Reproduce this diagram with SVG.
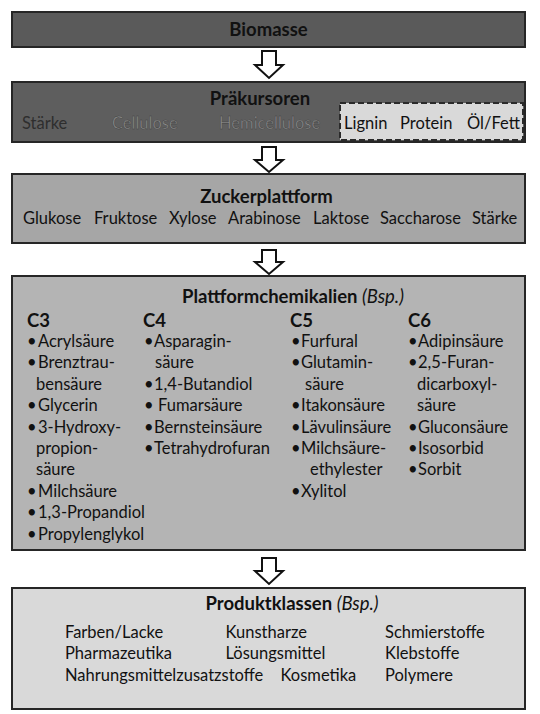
<svg xmlns="http://www.w3.org/2000/svg" width="540" height="714" viewBox="0 0 540 714">
<style>
  .box { stroke: #262626; stroke-width: 2; }
  .title { font-family: Lato, "Open Sans", sans-serif; font-weight: bold; font-size: 18.5px; fill: #111; }
  .it { font-family: Lato, "Open Sans", sans-serif; font-size: 16.5px; fill: #111; }
  .ital { font-style: italic; font-weight: normal; }
  .dark { fill: #2e2e2e; }
  .emb { fill: #8c8c8c; stroke: #3a3a3a; stroke-width: 0.4; }
  .arrow { fill: #fff; stroke: #111; stroke-width: 2; stroke-linejoin: miter; }
</style>
<rect width="540" height="714" fill="#fff"/>
<g id="connectors">
  <path class="arrow" d="M262,51 H276 V65 H283 L269,78 L255,65 H262 Z"/>
  <path class="arrow" d="M262,147 H276 V160 H283 L269,172 L255,160 H262 Z"/>
  <path class="arrow" d="M262,250 H276 V262 H283 L269,274 L255,262 H262 Z"/>
  <path class="arrow" d="M262,558 H276 V571 H283 L269,584 L255,571 H262 Z"/>
</g>
<g id="biomasse">
  <rect class="box" x="12" y="12" width="513" height="35" fill="#5a5a5a"/>
  <text class="title" x="268.5" y="36" text-anchor="middle">Biomasse</text>
</g>
<g id="praekursoren">
  <rect class="box" x="12" y="82" width="513" height="60" fill="#5e5e5e"/>
  <text class="title" x="260" y="105" text-anchor="middle">Präkursoren</text>
  <text class="it dark" x="22" y="129">Stärke</text>
  <text class="it emb" x="112" y="129">Cellulose</text>
  <text class="it emb" x="219" y="129">Hemicellulose</text>
  <rect x="340" y="103" width="183" height="37" fill="#d9d9d9" stroke="#2a2a2a" stroke-width="2" stroke-dasharray="6,3"/>
  <text class="it" x="344" y="129">Lignin</text>
  <text class="it" x="400" y="129">Protein</text>
  <text class="it" x="467" y="129">Öl/Fett</text>
</g>
<g id="zuckerplattform">
  <rect class="box" x="12" y="174" width="513" height="69" fill="#a6a6a6"/>
  <text class="title" x="266.5" y="203" text-anchor="middle">Zuckerplattform</text>
  <text class="it" x="23" y="224">Glukose</text>
  <text class="it" x="94" y="224">Fruktose</text>
  <text class="it" x="169" y="224">Xylose</text>
  <text class="it" x="228" y="224">Arabinose</text>
  <text class="it" x="313" y="224">Laktose</text>
  <text class="it" x="380" y="224">Saccharose</text>
  <text class="it" x="472" y="224">Stärke</text>
</g>
<g id="plattformchemikalien">
  <rect class="box" x="12" y="276" width="513" height="274" fill="#b4b4b4"/>
  <text class="title" x="293" y="303" text-anchor="middle">Plattformchemikalien <tspan class="ital">(Bsp.)</tspan></text>
  <text class="title" x="27" y="327">C3</text>
  <text class="title" x="143" y="327">C4</text>
  <text class="title" x="290" y="327">C5</text>
  <text class="title" x="408" y="327">C6</text>
  <g class="it">
    <text x="27" y="347">•</text><text x="38" y="347">Acrylsäure</text>
    <text x="27" y="368.4">•</text><text x="38" y="368.4">Brenztrau-</text>
    <text x="36" y="389.8">bensäure</text>
    <text x="27" y="411.2">•</text><text x="38" y="411.2">Glycerin</text>
    <text x="27" y="432.6">•</text><text x="38" y="432.6">3-Hydroxy-</text>
    <text x="36" y="454">propion-</text>
    <text x="36" y="475.4">säure</text>
    <text x="27" y="496.8">•</text><text x="38" y="496.8">Milchsäure</text>
    <text x="27" y="518.2">•</text><text x="38" y="518.2">1,3-Propandiol</text>
    <text x="27" y="539.6">•</text><text x="38" y="539.6">Propylenglykol</text>

    <text x="144" y="347">•</text><text x="154" y="347">Asparagin-</text>
    <text x="155" y="368.4">säure</text>
    <text x="144" y="389.8">•</text><text x="154" y="389.8">1,4-Butandiol</text>
    <text x="144" y="411.2">•</text><text x="158" y="411.2">Fumarsäure</text>
    <text x="144" y="432.6">•</text><text x="154" y="432.6">Bernsteinsäure</text>
    <text x="144" y="454">•</text><text x="154" y="454">Tetrahydrofuran</text>

    <text x="291" y="347">•</text><text x="301" y="347">Furfural</text>
    <text x="291" y="368.4">•</text><text x="301" y="368.4">Glutamin-</text>
    <text x="305" y="389.8">säure</text>
    <text x="291" y="411.2">•</text><text x="301" y="411.2">Itakonsäure</text>
    <text x="291" y="432.6">•</text><text x="301" y="432.6">Lävulinsäure</text>
    <text x="291" y="454">•</text><text x="301" y="454">Milchsäure-</text>
    <text x="310" y="475.4">ethylester</text>
    <text x="291" y="496.8">•</text><text x="301" y="496.8">Xylitol</text>

    <text x="408" y="347">•</text><text x="418" y="347">Adipinsäure</text>
    <text x="408" y="368.4">•</text><text x="418" y="368.4">2,5-Furan-</text>
    <text x="417" y="389.8">dicarboxyl-</text>
    <text x="417" y="411.2">säure</text>
    <text x="408" y="432.6">•</text><text x="418" y="432.6">Gluconsäure</text>
    <text x="408" y="454">•</text><text x="418" y="454">Isosorbid</text>
    <text x="408" y="475.4">•</text><text x="418" y="475.4">Sorbit</text>
  </g>
</g>
<g id="produktklassen">
  <rect class="box" x="12" y="588" width="513" height="121" fill="#d9d9d9"/>
  <text class="title" x="292" y="610" text-anchor="middle">Produktklassen <tspan class="ital">(Bsp.)</tspan></text>
  <g class="it">
    <text x="65" y="637.5">Farben/Lacke</text>
    <text x="225.5" y="637.5">Kunstharze</text>
    <text x="385" y="637.5">Schmierstoffe</text>
    <text x="65" y="659">Pharmazeutika</text>
    <text x="225.5" y="659">Lösungsmittel</text>
    <text x="385" y="659">Klebstoffe</text>
    <text x="65" y="681">Nahrungsmittelzusatzstoffe</text>
    <text x="280.5" y="681">Kosmetika</text>
    <text x="385" y="681">Polymere</text>
  </g>
</g>
</svg>
